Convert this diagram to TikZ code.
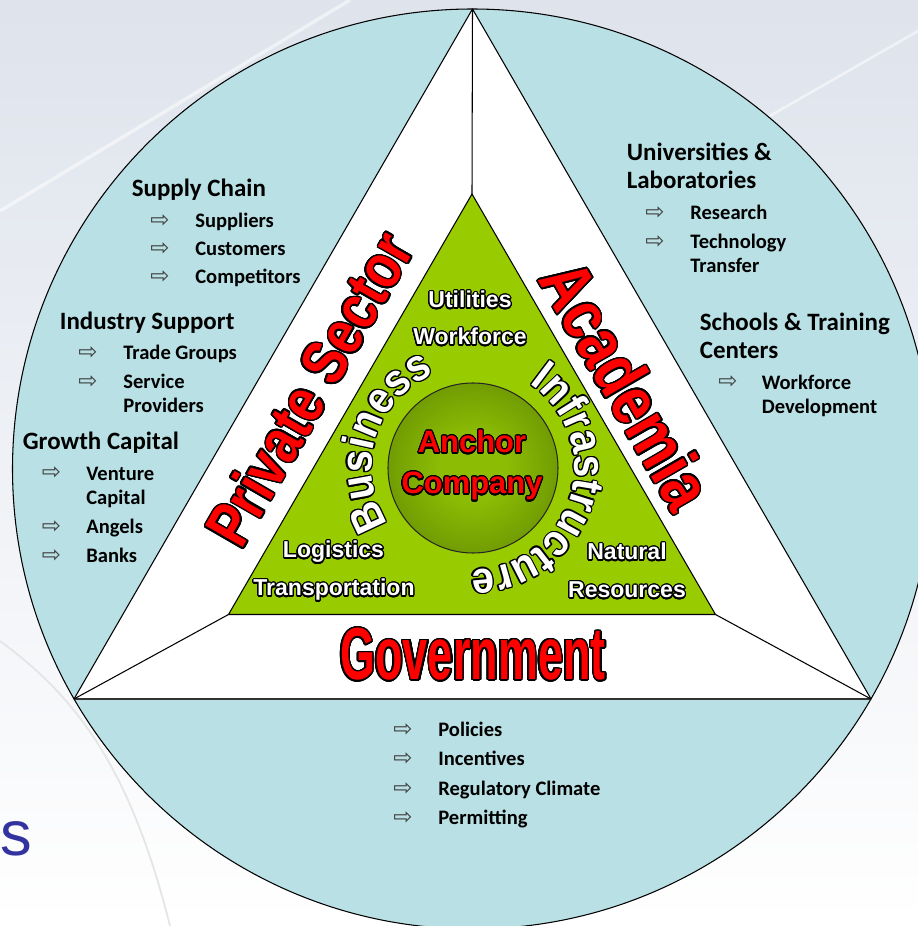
\documentclass[tikz,border=0pt]{standalone}
\usepackage{fontspec}
\usepackage[copies]{contour}
\usetikzlibrary{decorations.text}
\setmainfont{Carlito}
\newfontfamily\listfont{Carlito}
\newfontfamily\plainfont{Liberation Sans}
\newfontfamily\tallfont{Liberation Sans}[FakeStretch=0.82]
\newfontfamily\arcfamily{Liberation Sans}[FakeStretch=0.9]
\newfontfamily\govfont{Liberation Sans}[FakeStretch=0.61]
\newfontfamily\symfont{DejaVu Sans}
\definecolor{ringblue}{RGB}{185,224,228}
\definecolor{leafgreen}{RGB}{153,204,0}
\definecolor{anchorlight}{RGB}{140,188,4}
\definecolor{anchordark}{RGB}{70,104,0}
\definecolor{slidetop}{RGB}{222,227,236}
\definecolor{titleblue}{RGB}{51,51,160}
\pgfdeclareradialshading{anchorglow}{\pgfpointorigin}{color(0bp)=(anchorlight); color(10bp)=(anchorlight); color(50bp)=(anchordark)}
\contourlength{0.7pt}
\contournumber{24}
\newcommand\arcfont{\arcfamily\bfseries\fontsize{25.4}{25.4}\selectfont}
\tikzset{
  headtext/.style={anchor=base west, align=left, inner sep=0pt, font=\listfont\bfseries\fontsize{14.2}{16.5}\selectfont},
  itemtext/.style={anchor=base west, align=left, inner sep=0pt, font=\listfont\bfseries\fontsize{11.7}{13.8}\selectfont},
  itemarrow/.style={anchor=base west, inner sep=0pt, text=black!75, font=\symfont\fontsize{13}{13}\selectfont},
  sectorlabel/.style={inner sep=0pt, text=red, font=\tallfont\bfseries\fontsize{36}{36}\selectfont},
  factorlabel/.style={anchor=base, inner sep=0pt, text=white, font=\plainfont\bfseries\fontsize{13.1}{13.1}\selectfont},
  anchorlabel/.style={anchor=base, inner sep=0pt, text=red, font=\plainfont\bfseries\fontsize{17.6}{17.6}\selectfont},
  edge/.style={draw=black, line width=0.6pt, line join=round}
}
\begin{document}
\begin{tikzpicture}
\useasboundingbox (0,0) rectangle (18.36,18.52);
\clip (0,0) rectangle (18.36,18.52);
% slide background
\shade [top color=slidetop, bottom color=white] (0,0) rectangle (18.36,18.52);
\draw [white, line width=2pt, opacity=0.5] (0,14.3) -- (7,18.52);
\draw [white, line width=1.5pt, opacity=0.5] (14,15.4) -- (18.36,17.9);
\draw [black!10, line width=1pt] (0,5.7) .. controls (1.5,4.6) and (2.6,3.2) .. (3.4,0);
\node [anchor=base east, inner sep=0pt, text=titleblue, font=\plainfont\fontsize{36}{36}\selectfont] (title) at (0.64,1.42) {es};
% rings
\coordinate (ctr) at (9.45,9.14);
\coordinate (otop) at (9.45,18.34);
\coordinate (oleft) at (1.48,4.54);
\coordinate (oright) at (17.42,4.54);
\coordinate (itop) at (9.44,14.64);
\coordinate (ileft) at (4.57,6.23);
\coordinate (iright) at (14.31,6.23);
\filldraw [fill=ringblue, edge] (ctr) circle (9.2);
\filldraw [fill=white, edge] (otop) -- (oleft) -- (oright) -- cycle;
\draw [black!80, line width=1pt] (oleft) -- (oright);
\filldraw [fill=leafgreen, edge] (itop) -- (ileft) -- (iright) -- cycle;
\draw [edge] (otop) -- (itop);
\draw [edge] (oleft) -- (ileft);
\draw [edge] (oright) -- (iright);
\shade [shading=anchorglow] (9.46,9.16) circle (1.7);
\draw [edge, draw=black!85] (9.46,9.16) circle (1.7);
% sector names
\node [sectorlabel, rotate=60] (private) at (6.2,10.74) {\contourlength{0.9pt}\contour{black}{Private Sector}};
\node [sectorlabel, rotate=-60, font=\tallfont\bfseries\fontsize{39.9}{39.9}\selectfont] (academia) at (12.53,10.82) {\contourlength{0.9pt}\contour{black}{Academia}};
\node [sectorlabel, font=\govfont\bfseries\fontsize{42}{42}\selectfont] (gov) at (9.46,5.42) {\contourlength{0.9pt}\contour{black}{Government}};
% inner factors
\node [factorlabel] (util) at (9.4,12.36) {\contour{black}{Utilities}};
\node [factorlabel] (work) at (9.4,11.62) {\contour{black}{Workforce}};
\node [factorlabel] (logi) at (6.67,7.36) {\contour{black}{Logistics}};
\node [factorlabel] (trans) at (6.68,6.6) {\contour{black}{Transportation}};
\node [factorlabel] (natu) at (12.54,7.32) {\contour{black}{Natural}};
\node [factorlabel] (reso) at (12.54,6.56) {\contour{black}{Resources}};
\node [anchorlabel] (anch1) at (9.44,9.46) {\contour{black}{Anchor}};
\node [anchorlabel] (anch2) at (9.44,8.64) {\contour{black}{Company}};
% curved words round the anchor
\begin{scope}[shift={(9.46,9.16)}]
\foreach \d in {0,30,...,330} {
  \path [shift={(\d:0.026)}, decorate, decoration={text along path, text={|\arcfont|Business}, text align=center, text color=black}] (233:2.03) arc [start angle=233, end angle=93, radius=2.03];
  \path [shift={(\d:0.026)}, decorate, decoration={text along path, text={|\arcfont|Infrastructure}, text align=center, text color=black}] (72.5:2.03) arc [start angle=72.5, end angle=-107.5, radius=2.03];
}
\path [decorate, decoration={text along path, text={|\arcfont|Business}, text align=center, text color=white}] (233:2.03) arc [start angle=233, end angle=93, radius=2.03];
\path [decorate, decoration={text along path, text={|\arcfont|Infrastructure}, text align=center, text color=white}] (72.5:2.03) arc [start angle=72.5, end angle=-107.5, radius=2.03];
\end{scope}
% private sector list
\node [headtext] (supply) at (2.63,14.59) {Supply Chain};
\node [itemarrow] (sar1) at (3.0,13.97) {⇨};
\node [itemtext] (suppliers) at (3.9,13.97) {Suppliers};
\node [itemarrow] (sar2) at (3.0,13.4) {⇨};
\node [itemtext] (customers) at (3.9,13.4) {Customers};
\node [itemarrow] (sar3) at (3.0,12.84) {⇨};
\node [itemtext] (competitors) at (3.9,12.84) {Competitors};
\node [headtext] (industry) at (1.19,11.93) {Industry Support};
\node [itemarrow] (iar1) at (1.56,11.32) {⇨};
\node [itemtext] (trade) at (2.46,11.32) {Trade Groups};
\node [itemarrow] (iar2) at (1.56,10.74) {⇨};
\node [itemtext] (service) at (2.46,10.26) {Service\\Providers};
\node [headtext] (growth) at (0.45,9.52) {Growth Capital};
\node [itemarrow] (gar1) at (0.83,8.92) {⇨};
\node [itemtext] (venture) at (1.72,8.42) {Venture\\Capital};
\node [itemarrow] (gar2) at (0.83,7.84) {⇨};
\node [itemtext] (angels) at (1.72,7.84) {Angels};
\node [itemarrow] (gar3) at (0.83,7.26) {⇨};
\node [itemtext] (banks) at (1.72,7.26) {Banks};
% academia list
\node [headtext] (univ) at (12.53,14.74) {Universities \&\\Laboratories};
\node [itemarrow] (uar1) at (12.9,14.13) {⇨};
\node [itemtext] (research) at (13.8,14.13) {Research};
\node [itemarrow] (uar2) at (12.9,13.55) {⇨};
\node [itemtext] (techtrans) at (13.8,13.07) {Technology\\Transfer};
\node [headtext] (schools) at (13.99,11.34) {Schools \& Training\\Centers};
\node [itemarrow] (car1) at (14.36,10.74) {⇨};
\node [itemtext] (workdev) at (15.23,10.25) {Workforce\\Development};
% government list
\node [itemarrow] (par1) at (7.86,3.79) {⇨};
\node [itemtext] (policies) at (8.76,3.79) {Policies};
\node [itemarrow] (par2) at (7.86,3.2) {⇨};
\node [itemtext] (incentives) at (8.76,3.2) {Incentives};
\node [itemarrow] (par3) at (7.86,2.62) {⇨};
\node [itemtext] (climate) at (8.76,2.62) {Regulatory Climate};
\node [itemarrow] (par4) at (7.86,2.04) {⇨};
\node [itemtext] (permit) at (8.76,2.04) {Permitting};
\end{tikzpicture}
\end{document}
